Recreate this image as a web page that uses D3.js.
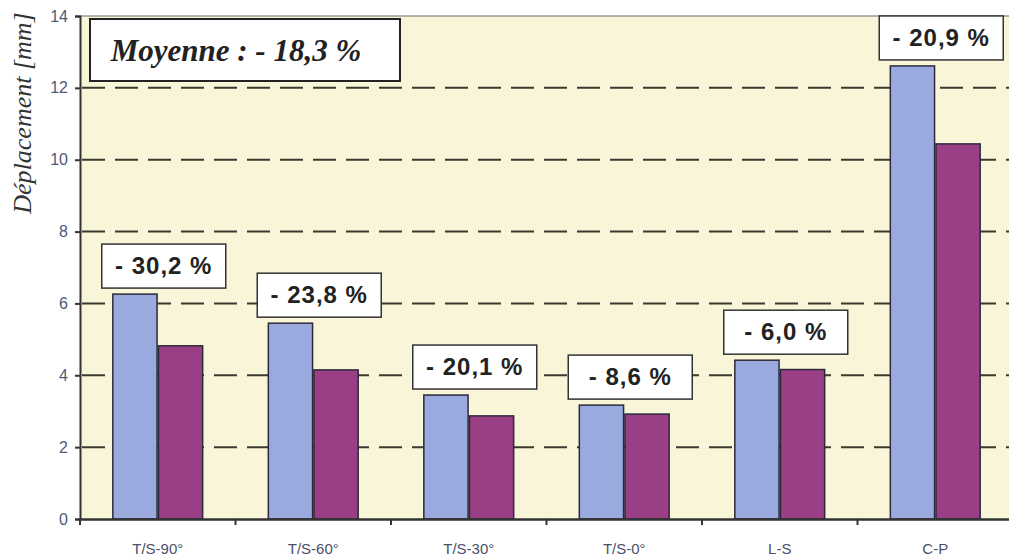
<!DOCTYPE html>
<html><head><meta charset="utf-8">
<script src="https://cdn.jsdelivr.net/npm/d3@7"></script>
<style>body{margin:0;background:#fff}svg{display:block}</style>
</head><body><svg id="c" width="1009" height="559"></svg>
<script>
const categories = ["T/S-90°","T/S-60°","T/S-30°","T/S-0°","L-S","C-P"];
const seriesA = [6.26, 5.45, 3.45, 3.17, 4.42, 12.61];
const seriesB = [4.82, 4.15, 2.87, 2.92, 4.16, 10.44];
const changeLabels = ["- 30,2 %","- 23,8 %","- 20,1 %","- 8,6 %","- 6,0 %","- 20,9 %"];
const yTicks = [0,2,4,6,8,10,12,14];
const meanLabel = "Moyenne : - 18,3 %";
const yTitle = "Déplacement [mm]";

const svg = d3.select("#c");
const L = 80, R = 1013, T = 16, B = 519;
const x0 = d3.scaleBand().domain(categories).range([L, R]).padding(0);
const x1 = d3.scaleBand().domain([0,1]).range([0, x0.bandwidth()]).paddingInner(0.03).paddingOuter(0.72);
const y = d3.scaleLinear().domain([0,14]).range([B, T]);

// plot background
svg.append("rect").attr("x", L).attr("y", T).attr("width", R - L).attr("height", B - T).attr("fill", "#f8f5d9");
svg.append("line").attr("x1", L).attr("x2", R).attr("y1", T).attr("y2", T).attr("stroke", "#9a9a90").attr("stroke-width", 1.5);

// gridlines
svg.append("g").selectAll("line").data(yTicks.filter(d => d > 0 && d < 14)).join("line")
  .attr("x1", L + 2).attr("x2", R).attr("y1", d => y(d)).attr("y2", d => y(d))
  .attr("stroke", "#3a3a30").attr("stroke-width", 2).attr("stroke-dasharray", "23,10");

// y axis
const ya = svg.append("g").attr("transform", `translate(${L},0)`)
  .call(d3.axisLeft(y).tickValues(yTicks).tickSize(5).tickPadding(7).tickFormat(d3.format("d")));
ya.select(".domain").attr("stroke", "#333").attr("stroke-width", 2);
ya.selectAll(".tick line").attr("stroke", "#333").attr("stroke-width", 2);
ya.selectAll(".tick text").attr("font-family", "Liberation Sans, Arial, sans-serif").attr("font-size", 16).attr("fill", "#50587a");

// bars
const groups = svg.append("g").selectAll("g").data(categories).join("g")
  .attr("transform", d => `translate(${x0(d)},0)`);
groups.append("rect")
  .attr("x", x1(0)).attr("width", x1.bandwidth())
  .attr("y", (d,i) => y(seriesA[i])).attr("height", (d,i) => B - y(seriesA[i]))
  .attr("fill", "#9aaade").attr("stroke", "#2a2a3a").attr("stroke-width", 1.5);
groups.append("rect")
  .attr("x", x1(1)).attr("width", x1.bandwidth())
  .attr("y", (d,i) => y(seriesB[i])).attr("height", (d,i) => B - y(seriesB[i]))
  .attr("fill", "#9a3e86").attr("stroke", "#2a2a3a").attr("stroke-width", 1.5);

// x axis
const xa = svg.append("g").attr("transform", `translate(0,${B})`)
  .call(d3.axisBottom(x0).tickSize(0).tickPadding(24));
xa.select(".domain").attr("stroke", "#333").attr("stroke-width", 2.5);
xa.selectAll(".tick text").attr("font-family", "Liberation Sans, Arial, sans-serif").attr("font-size", 15).attr("fill", "#4a5068");
svg.append("g").selectAll("line").data(categories).join("line")
  .attr("x1", d => x0(d)).attr("x2", d => x0(d)).attr("y1", B).attr("y2", B + 6)
  .attr("stroke", "#333").attr("stroke-width", 2);

// change labels
const bw = 124, bh = 44;
const lab = groups.append("g")
  .attr("transform", (d,i) => `translate(${x0.bandwidth()/2 + 6 - bw/2},${y(seriesA[i]) - 6 - bh})`);
lab.append("rect").attr("width", bw).attr("height", bh).attr("fill", "#fff").attr("stroke", "#333").attr("stroke-width", 1.5);
lab.append("text").attr("x", bw/2).attr("y", bh/2 + 8).attr("text-anchor", "middle")
  .attr("font-family", "Liberation Sans, Arial, sans-serif").attr("font-weight", "bold").attr("font-size", 24)
  .attr("letter-spacing", 1).attr("fill", "#222")
  .text((d,i) => changeLabels[i]);

// mean box
svg.append("rect").attr("x", 90).attr("y", 19).attr("width", 310).attr("height", 62)
  .attr("fill", "#fff").attr("stroke", "#222").attr("stroke-width", 2);
svg.append("text").attr("x", 236).attr("y", 61).attr("text-anchor", "middle")
  .attr("font-family", "Liberation Serif, Times New Roman, serif").attr("font-style", "italic").attr("font-weight", "bold")
  .attr("font-size", 31).attr("fill", "#222").text(meanLabel);

// y title
svg.append("text").attr("transform", "translate(31,113) rotate(-90)").attr("text-anchor", "middle")
  .attr("font-family", "Liberation Serif, Times New Roman, serif").attr("font-style", "italic")
  .attr("font-size", 26).attr("fill", "#333").text(yTitle);
</script></body></html>
